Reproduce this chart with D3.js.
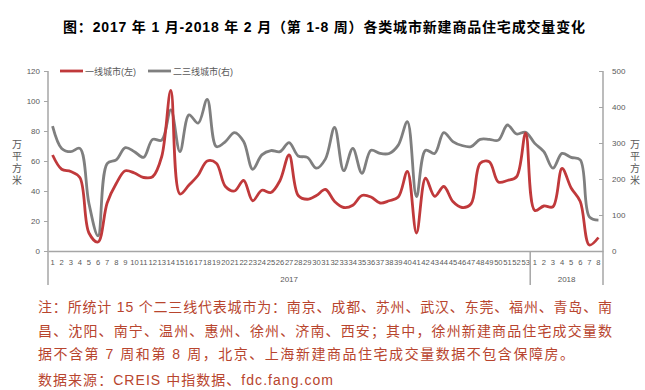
<!DOCTYPE html>
<html>
<head>
<meta charset="utf-8">
<script src="https://cdn.jsdelivr.net/npm/d3@7"></script>
<style>
  body { margin: 0; background: #fff; }
  svg text { font-family: "Liberation Sans", "Noto Sans CJK SC", sans-serif; }
</style>
</head>
<body>
<svg id="chart" width="645" height="390"></svg>
<script>
// 周次
const weeks2017 = d3.range(1, 54)
const weeks2018 = d3.range(1, 9)
const years = ["2017", "2018"]
// 一线城市(左轴)
const tier1 = [64, 54.5, 53, 49, 12, 6, 32, 45, 53.5, 52, 49, 49.5, 63, 107, 38, 44,
  50.5, 60, 58.5, 43, 40, 47, 33.5, 40.5, 39, 47, 64, 37, 34.5, 37, 41,
  33, 29, 30.5, 37, 36, 32, 33.5, 36, 53, 12, 48.5, 36.5, 43, 33, 29, 31.5,
  58.5, 59.5, 46, 47, 49.5, 78.5,
  27, 30, 29.5, 55, 42, 33, 4, 9]
// 二三线城市(右轴)
const tier23 = [347, 285, 276, 285, 132, 42, 243, 253, 287, 276, 260, 310, 308, 392, 276, 378,
  355, 421, 290, 304, 329, 304, 227, 267, 279, 276, 301, 264, 260, 230, 256,
  343, 223, 285, 216, 280, 271, 271, 294, 359, 151, 280, 271, 329, 304, 293, 290,
  310, 310, 308, 350, 325, 330,
  299, 276, 230, 271, 260, 253, 95, 86]
const leftTicks = [0, 20, 40, 60, 80, 100, 120]
const rightTicks = [0, 100, 200, 300, 400, 500]
const seriesNames = ["一线城市(左)", "二三线城市(右)"]
const noteLines = [
  "注：所统计 15 个二三线代表城市为：南京、成都、苏州、武汉、东莞、福州、青岛、南",
  "昌、沈阳、南宁、温州、惠州、徐州、济南、西安；其中，徐州新建商品住宅成交量数",
  "据不含第 7 周和第 8 周，北京、上海新建商品住宅成交量数据不包含保障房。"
]
const sourceText = "数据来源：CREIS 中指数据、fdc.fang.com"
const titleText = "图：2017 年 1 月-2018 年 2 月（第 1-8 周）各类城市新建商品住宅成交量变化"

const svg = d3.select("#chart")
const mL = 48, mR = 603, mT = 71, mB = 251
const red = "#C0393B", grey = "#7F7F7F", axisCol = "#A6A6A6", txtCol = "#595959"

const cats = weeks2017.map(w => "2017-" + w).concat(weeks2018.map(w => "2018-" + w))
const labels = weeks2017.concat(weeks2018)

const x = d3.scaleBand().domain(cats).range([mL, mR])
const yL = d3.scaleLinear().domain([0, 120]).range([mB, mT])
const yR = d3.scaleLinear().domain([0, 500]).range([mB, mT])

// 标题
svg.append("text")
  .attr("x", 63).attr("y", 32)
  .attr("font-size", 14).attr("font-weight", "bold")
  .attr("fill", "#000")
  .attr("textLength", 522).attr("lengthAdjust", "spacing")
  .text(titleText)

// 左轴
const gL = svg.append("g").attr("transform", `translate(${mL},0)`)
  .call(d3.axisLeft(yL).tickValues(leftTicks).tickSize(4).tickPadding(4))
gL.select(".domain").attr("stroke", axisCol).attr("stroke-width", 1.5).attr("d", `M0,${mT}V${mB + 34}`)
gL.selectAll(".tick line").attr("stroke", axisCol)
gL.selectAll(".tick text").attr("fill", txtCol).attr("font-size", 8)

// 右轴
const gR = svg.append("g").attr("transform", `translate(${mR},0)`)
  .call(d3.axisRight(yR).tickValues(rightTicks).tickSize(4).tickPadding(5))
gR.select(".domain").attr("stroke", axisCol).attr("stroke-width", 1.5).attr("d", `M0,${mT}V${mB + 34}`)
gR.selectAll(".tick line").attr("stroke", axisCol).attr("x2", -4)
gR.selectAll(".tick text").attr("fill", txtCol).attr("font-size", 8)

// X轴
const gX = svg.append("g").attr("transform", `translate(0,${mB})`)
  .call(d3.axisBottom(x).tickSize(0).tickPadding(9).tickFormat((d, i) => labels[i]))
gX.select(".domain").attr("stroke", axisCol).attr("stroke-width", 1.5)
gX.selectAll(".tick text").attr("fill", txtCol).attr("font-size", 7.6)
  .attr("font-family", "'Liberation Sans Narrow', 'Liberation Sans', sans-serif")

// 年份分隔与标签
const sepX = x("2018-1")
svg.append("line").attr("x1", sepX).attr("x2", sepX).attr("y1", mB).attr("y2", mB + 34)
  .attr("stroke", axisCol).attr("stroke-width", 1.5)
svg.selectAll(".year").data(years).join("text")
  .attr("class", "year")
  .attr("x", (d, i) => i === 0 ? (mL + sepX) / 2 : (sepX + mR) / 2)
  .attr("y", mB + 31)
  .attr("text-anchor", "middle")
  .attr("font-size", 8).attr("fill", txtCol)
  .text(d => d)

// 单位
const unit = ["万", "平", "方", "米"]
;[17, 635].forEach(ux => {
  svg.append("g").selectAll("text").data(unit).join("text")
    .attr("x", ux).attr("y", (d, i) => 148 + i * 12)
    .attr("text-anchor", "middle")
    .attr("font-size", 10).attr("fill", txtCol)
    .text(d => d)
})

// 折线
const cx = d => x(d) + x.bandwidth() / 2
const lineL = d3.line().x((d, i) => cx(cats[i])).y(d => yL(d)).curve(d3.curveCatmullRom.alpha(0.5))
const lineR = d3.line().x((d, i) => cx(cats[i])).y(d => yR(d)).curve(d3.curveCatmullRom.alpha(0.5))

svg.append("path").datum(tier23).attr("d", lineR)
  .attr("fill", "none").attr("stroke", grey).attr("stroke-width", 2.8).attr("stroke-linejoin", "round")
svg.append("path").datum(tier1).attr("d", lineL)
  .attr("fill", "none").attr("stroke", red).attr("stroke-width", 2.8).attr("stroke-linejoin", "round")

// 图例
const legend = [{ name: seriesNames[0], color: red, x: 60 }, { name: seriesNames[1], color: grey, x: 148 }]
legend.forEach(l => {
  svg.append("line").attr("x1", l.x).attr("x2", l.x + 23).attr("y1", 71).attr("y2", 71)
    .attr("stroke", l.color).attr("stroke-width", 2.8)
  svg.append("text").attr("x", l.x + 25).attr("y", 74.5)
    .attr("font-size", 9).attr("fill", txtCol).text(l.name)
})

// 注释
const noteCol = "#B8452E"
const noteLens = [574, 574, 536]
noteLines.forEach((t, i) => {
  svg.append("text").attr("x", 38).attr("y", 312 + i * 23.5)
    .attr("font-size", 14).attr("fill", noteCol)
    .attr("textLength", noteLens[i]).attr("lengthAdjust", "spacing")
    .text(t)
})
svg.append("text").attr("x", 38).attr("y", 385)
  .attr("font-size", 14).attr("fill", noteCol)
  .attr("textLength", 295).attr("lengthAdjust", "spacing")
  .text(sourceText)
</script>
</body>
</html>
